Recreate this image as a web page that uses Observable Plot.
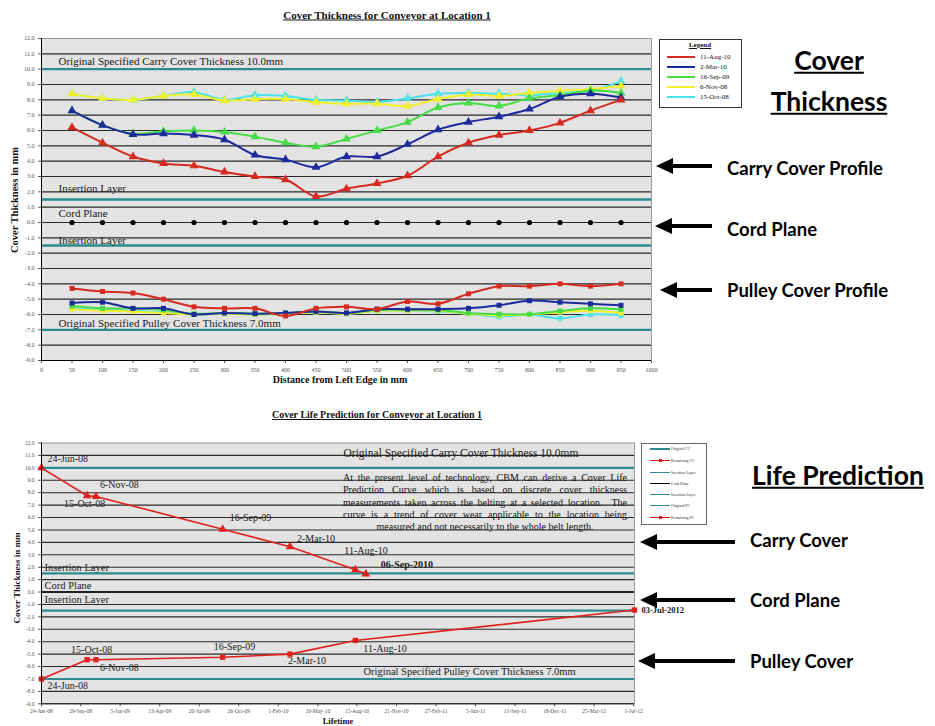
<!DOCTYPE html>
<html><head><meta charset="utf-8">
<script src="https://cdn.jsdelivr.net/npm/d3@7"></script>
<script src="https://cdn.jsdelivr.net/npm/@observablehq/plot@0.6"></script>
<style>
body{margin:0;background:#fff;}
#page{position:relative;width:935px;height:726px;overflow:hidden;font-family:"Liberation Serif",serif;color:#111;}
.abs{position:absolute;white-space:nowrap;line-height:1;}
.ctitle{font-weight:bold;font-size:11px;text-decoration:underline;transform:translate(-50%,-50%);}
.ylab{font-weight:bold;transform:translate(-50%,-50%) rotate(-90deg);}
.xlab{font-weight:bold;transform:translate(-50%,-50%);}
.big{font-family:Lato,sans-serif;font-weight:bold;transform:translateY(-50%);color:#000;}
.legend{border:1px solid #333;background:#fff;box-sizing:border-box;}
.para{font-size:10px;line-height:12.3px;text-align:justify;text-align-last:center;white-space:normal;}
</style></head>
<body><div id="page"></div>
<script>
// ---------- Chart 1 data: Cover Thickness ----------
const distances = [50,100,150,200,250,300,350,400,450,500,550,600,650,700,750,800,850,900,950];
const xTicks1 = [0,50,100,150,200,250,300,350,400,450,500,550,600,650,700,750,800,850,900,950,1000];
const yTicks = [12,11,10,9,8,7,6,5,4,3,2,1,0,-1,-2,-3,-4,-5,-6,-7,-8,-9];
const gridBlack = [11,9,8,7,6,5,4,3,2,1,0,-1,-2,-3,-4,-5,-6,-8];
const tealLines = [10,1.5,-1.5,-7];
const seriesDates = ["11-Aug-10","2-Mar-10","16-Sep-09","6-Nov-08","15-Oct-08"];
const seriesColors = ["#d62a20","#1d2a9c","#46dc46","#f2f02a","#4ae2ec"];

const carryAug10 = [6.2,5.2,4.3,3.85,3.7,3.3,3.0,2.8,1.7,2.2,2.55,3.05,4.3,5.2,5.7,6.0,6.5,7.3,8.0];
const carryMar10 = [7.3,6.35,5.75,5.8,5.7,5.4,4.4,4.1,3.6,4.3,4.3,5.1,6.05,6.55,6.9,7.4,8.2,8.4,8.15];
const carrySep09 = [7.3,6.35,5.8,5.95,6.0,5.9,5.6,5.2,4.95,5.45,6.0,6.55,7.5,7.8,7.6,8.1,8.3,8.6,8.45];
const carryNov08 = [8.4,8.1,8.0,8.25,8.35,7.95,8.05,8.05,7.85,7.75,7.75,7.6,8.05,8.35,8.25,8.45,8.6,8.7,8.9];
const carryOct08 = [8.4,8.1,8.0,8.25,8.5,8.0,8.3,8.25,8.0,7.95,7.85,8.1,8.4,8.45,8.4,8.3,8.45,8.6,9.2];

const pulleyAug10 = [-4.3,-4.5,-4.6,-5.0,-5.5,-5.6,-5.6,-6.1,-5.6,-5.5,-5.65,-5.15,-5.3,-4.65,-4.15,-4.15,-4.0,-4.15,-4.0];
const pulleyMar10 = [-5.25,-5.2,-5.6,-5.6,-6.0,-5.9,-5.95,-5.9,-5.8,-5.9,-5.65,-5.65,-5.65,-5.6,-5.4,-5.1,-5.2,-5.3,-5.4];
const pulleySep09 = [-5.45,-5.6,-5.6,-5.7,-5.95,-5.9,-5.95,-5.9,-5.8,-5.9,-5.7,-5.7,-5.7,-5.9,-5.98,-5.98,-5.77,-5.6,-5.67];
const pulleyNov08 = [-5.65,-5.75,-5.8,-5.9,-6.0,-5.95,-6.0,-5.95,-5.85,-5.95,-5.75,-5.75,-5.75,-5.95,-6.05,-6.0,-5.85,-5.75,-5.9];
const pulleyOct08 = [-5.6,-5.7,-5.75,-5.85,-6.0,-5.95,-6.0,-5.95,-5.85,-5.95,-5.75,-5.75,-5.8,-5.95,-6.15,-6.0,-6.25,-6.0,-6.05];

const annotText1 = ["Original Specified Carry Cover Thickness 10.0mm","Insertion Layer","Cord Plane","Insertion Layer","Original Specified Pulley Cover Thickness 7.0mm"];
const annotY1 = [10.5,2.25,0.6,-1.15,-6.6];

// ---------- Chart 2 data: Cover Life Prediction ----------
const tickLabels2 = ["24-Jun-08","29-Sep-08","5-Jan-09","13-Apr-09","20-Jul-09","26-Oct-09","1-Feb-10","10-May-10","15-Aug-10","21-Nov-10","27-Feb-11","5-Jun-11","11-Sep-11","18-Dec-11","25-Mar-12","1-Jul-12"];
const lifeDomain = ["24-Jun-08","3-Jul-12"];
const lifeCarryDates = ["24-Jun-08","15-Oct-08","6-Nov-08","16-Sep-09","2-Mar-10","11-Aug-10","6-Sep-10"];
const lifeCarryValues = [10.0,7.75,7.7,5.05,3.65,1.8,1.45];
const lifeCarryLabels = ["24-Jun-08","15-Oct-08","6-Nov-08","16-Sep-09","2-Mar-10","11-Aug-10","06-Sep-2010"];
const lifePulleyDates = ["24-Jun-08","15-Oct-08","6-Nov-08","16-Sep-09","2-Mar-10","11-Aug-10","3-Jul-12"];
const lifePulleyValues = [-7.0,-5.45,-5.45,-5.25,-5.0,-3.9,-1.45];
const lifePulleyLabels = ["24-Jun-08","15-Oct-08","6-Nov-08","16-Sep-09","2-Mar-10","11-Aug-10","03-Jul-2012"];
const annotText2 = ["Original Specified Carry Cover Thickness 10.0mm","Insertion Layer","Cord Plane","Insertion Layer","Original Specified Pulley Cover Thickness 7.0mm"];
const annotY2 = [11.2,2.0,0.5,-0.6,-6.4];
const legend2Labels = ["Original CC","Remaining CC","Insertion Layer","Cord Plane","Insertion Layer","Original PC","Remaining PC"];
const paragraph = "At the present level of technology, CBM can derive a Cover Life Prediction Curve which is based on discrete cover thickness measurements taken across the belting at a selected location.\u00a0 The curve is a trend of cover wear applicable to the location being measured and not necessarily to the whole belt length.";

// ---------- layout / style constants ----------
const page = document.getElementById("page");
const GRID = "#2a2a2a", TEAL = "#2b8b8e", BG = "#e3e3e3", RED = "#e0201c";
const fmt1 = d => d.toFixed(1);
const parse = d3.utcParse("%d-%b-%y");

function place(el, x, y){ el.style.position="absolute"; el.style.left=x+"px"; el.style.top=y+"px"; page.appendChild(el); return el; }
function div(cls, text, x, y, style){ const d=document.createElement("div"); d.className="abs "+cls; d.textContent=text; if(style) Object.assign(d.style,style); return place(d,x,y); }

// ---------- Chart 1 ----------
const carrySets = [carryAug10,carryMar10,carrySep09,carryNov08,carryOct08];
const pulleySets = [pulleyAug10,pulleyMar10,pulleySep09,pulleyNov08,pulleyOct08];
const marks1 = [
  Plot.frame({fill: BG, stroke: "#9a9a9a"}),
  Plot.ruleY(gridBlack, {stroke: GRID, strokeWidth: 1.1}),
  Plot.ruleY(tealLines, {stroke: TEAL, strokeWidth: 2.3}),
  Plot.text(annotText1.map((t,i)=>({t, y: annotY1[i]})), {text:"t", y:"y", frameAnchor:"left", dx:17, textAnchor:"start", fontSize:11, fill:"#1a1a1a"}),
  Plot.dot(distances, {x: d=>d, y: 0, r: 2.6, fill: "#000"})
];
for (const i of [4,3,2,1,0]) {
  const rc = distances.map((x,j)=>({x, y: carrySets[i][j], s: seriesDates[i]}));
  const rp = distances.map((x,j)=>({x, y: pulleySets[i][j], s: seriesDates[i]}));
  marks1.push(Plot.line(rc, {x:"x", y:"y", stroke: seriesColors[i], strokeWidth: 2, curve: "catmull-rom"}));
  marks1.push(Plot.dot(rc, {x:"x", y:"y", symbol:"triangle", r: 3.3, fill: seriesColors[i]}));
  marks1.push(Plot.line(rp, {x:"x", y:"y", stroke: seriesColors[i], strokeWidth: 2, curve: "catmull-rom"}));
  marks1.push(Plot.dot(rp, {x:"x", y:"y", symbol:"square", r: 2.8, fill: seriesColors[i]}));
}
marks1.push(Plot.ruleX([0], {stroke:"#000"}), Plot.ruleY([-9], {stroke:"#000"}));

const plot1 = Plot.plot({
  width: 660, height: 395,
  marginLeft: 41, marginRight: 9, marginTop: 38, marginBottom: 35,
  x: {domain:[0,1000], ticks: xTicks1, tickFormat: d=>String(d), tickSize: 3, tickPadding: 4, label: null},
  y: {domain:[-9,12], ticks: yTicks, tickFormat: fmt1, tickSize: 3, tickPadding: 4, label: null},
  style: {fontFamily: "Liberation Serif", fontSize: "6px", color: "#555", background: "transparent"},
  marks: marks1
});
place(plot1, 0, 0);

div("ctitle", "Cover Thickness for Conveyor at Location 1", 387, 15);
div("ylab", "Cover Thickness in mm", 15, 200, {fontSize:"10.5px"});
div("xlab", "Distance from Left Edge in mm", 340, 380, {fontSize:"10px"});

// legend 1
const lg1 = place(Object.assign(document.createElement("div"), {className:"legend"}), 659, 39);
Object.assign(lg1.style, {width:"83px", height:"69px"});
div("", "Legend", 700, 42, {fontSize:"7px", fontWeight:"bold", textDecoration:"underline", transform:"translateX(-50%)"});
seriesDates.forEach((d,i)=>{
  const y = [56.7,66.5,76.5,86.5,96.5][i];
  const ln = document.createElement("div"); Object.assign(ln.style,{height:"2px", width:"28px", background: seriesColors[i]});
  place(ln, 667, y-1);
  div("", d, 700, y, {fontSize:"7px", transform:"translateY(-50%)"});
});

// ---------- Chart 2 ----------
const d0 = parse(lifeDomain[0]), d1 = parse(lifeDomain[1]);
const carryRows = lifeCarryDates.map((d,i)=>({x: parse(d), y: lifeCarryValues[i], label: lifeCarryLabels[i]}));
const pulleyRows = lifePulleyDates.map((d,i)=>({x: parse(d), y: lifePulleyValues[i], label: lifePulleyLabels[i]}));
const carryOffsets = [[6,-9],[-23,8.5],[4,-12],[7,-11.5],[7,-7.5],[-11,-18.5],[15,-9.6]];
const pulleyOffsets = [[6,7],[-16,-9.5],[4,8],[-9,-10.7],[-2,7],[8,8],[7,0]];

const marks2 = [
  Plot.frame({fill: BG, stroke: "#9a9a9a"}),
  Plot.ruleY(gridBlack, {stroke: GRID, strokeWidth: 1.1}),
  Plot.ruleY([0], {stroke:"#000", strokeWidth: 1.4}),
  Plot.ruleY(tealLines, {stroke: TEAL, strokeWidth: 2.1}),
  Plot.text(annotText2.map((t,i)=>({t, y: annotY2[i]})).slice(1,4), {text:"t", y:"y", frameAnchor:"left", dx:3, textAnchor:"start", fontSize:10.5, fill:"#1a1a1a"}),
  Plot.text([{t: annotText2[0], y: annotY2[0]}], {text:"t", y:"y", frameAnchor:"left", dx:302, textAnchor:"start", fontSize:11.5, fill:"#1a1a1a"}),
  Plot.text([{t: annotText2[4], y: annotY2[4]}], {text:"t", y:"y", frameAnchor:"left", dx:322, textAnchor:"start", fontSize:10.5, fill:"#1a1a1a"}),
  Plot.line(carryRows, {x:"x", y:"y", stroke: RED, strokeWidth: 1.6}),
  Plot.dot(carryRows, {x:"x", y:"y", symbol:"triangle", r: 3.2, fill: RED}),
  Plot.line(pulleyRows, {x:"x", y:"y", stroke: RED, strokeWidth: 1.6}),
  Plot.dot(pulleyRows, {x:"x", y:"y", symbol:"square", r: 3, fill: RED}),
  Plot.ruleX([d0], {stroke:"#000"}), Plot.ruleY([-9], {stroke:"#000"})
];
carryRows.forEach((r,i)=>marks2.push(Plot.text([r], {x:"x", y:"y", text:"label", dx: carryOffsets[i][0], dy: carryOffsets[i][1], textAnchor:"start", fontSize: 10, fontWeight: i===6 ? "bold" : "normal", fill:"#1a1a1a"})));
pulleyRows.forEach((r,i)=>marks2.push(Plot.text([r], {x:"x", y:"y", text:"label", dx: pulleyOffsets[i][0], dy: pulleyOffsets[i][1], textAnchor:"start", fontSize: i===6 ? 8.5 : 10, fontWeight: i===6 ? "bold" : "normal", fill:"#1a1a1a"})));

const plot2 = Plot.plot({
  width: 710, height: 326,
  marginLeft: 41, marginRight: 76, marginTop: 42.5, marginBottom: 22.7,
  x: {type:"utc", domain:[d0,d1], ticks: tickLabels2.map(parse), tickFormat: d3.utcFormat("%-d-%b-%y"), tickSize: 3, tickPadding: 2, label: null},
  y: {domain:[-9,12], ticks: yTicks, tickFormat: fmt1, tickSize: 3, tickPadding: 4, label: null},
  style: {fontFamily: "Liberation Serif", fontSize: "5.5px", color: "#555", background: "transparent", overflow:"visible"},
  marks: marks2
});
place(plot2, 0, 400);

const para = div("para", paragraph, 343, 472);
para.style.width = "284px";

div("ctitle", "Cover Life Prediction for Conveyor at Location 1", 377, 415, {fontSize:"10px"});
div("ylab", "Cover Thickness in mm", 17, 578, {fontSize:"9px"});
div("xlab", "Lifetime", 338, 721, {fontSize:"8.5px"});

// legend 2
const lg2 = place(Object.assign(document.createElement("div"), {className:"legend"}), 641, 443);
Object.assign(lg2.style, {width:"66px", height:"82px", borderColor:"#666"});
const lg2Colors = [TEAL, RED, TEAL, "#000", TEAL, TEAL, RED];
const lg2Y = [449,460.5,472.5,483.5,494.5,505.5,517.5];
legend2Labels.forEach((t,i)=>{
  const ln = document.createElement("div"); Object.assign(ln.style,{height:"1.5px", width:"20px", background: lg2Colors[i]});
  place(ln, 650, lg2Y[i]-0.75);
  if (i===1 || i===6) { const m=document.createElement("div"); Object.assign(m.style,{width:"3px",height:"3px",background:RED}); place(m, 658.5, lg2Y[i]-1.5); }
  div("", t, 671, lg2Y[i], {fontSize:"4px", transform:"translateY(-50%)", color:"#333"});
});

// ---------- side annotations ----------
function arrow(xTip, xEnd, y){
  const head = document.createElement("div");
  Object.assign(head.style,{width:0,height:0,borderRight:"17px solid #000",borderTop:"8px solid transparent",borderBottom:"8px solid transparent"});
  place(head, xTip, y-8);
  const sh = document.createElement("div");
  Object.assign(sh.style,{height:"3.5px",background:"#000",width:(xEnd-xTip-14)+"px"});
  place(sh, xTip+14, y-1.75);
}
div("big", "Cover", 829, 60, {fontSize:"26.5px", textDecoration:"underline", transform:"translate(-50%,-50%)"});
div("big", "Thickness", 829, 101, {fontSize:"26.5px", textDecoration:"underline", transform:"translate(-50%,-50%)"});
div("big", "Carry Cover Profile", 727, 168, {fontSize:"18.5px"});
div("big", "Cord Plane", 727, 229, {fontSize:"18.5px"});
div("big", "Pulley Cover Profile", 727, 290, {fontSize:"18.5px"});
arrow(656, 712, 166); arrow(655, 712, 226); arrow(660, 712, 290);
div("big", "Life Prediction", 752, 475, {fontSize:"26.5px", textDecoration:"underline"});
div("big", "Carry Cover", 750, 540, {fontSize:"18.5px"});
div("big", "Cord Plane", 750, 600, {fontSize:"18.5px"});
div("big", "Pulley Cover", 750, 661, {fontSize:"18.5px"});
arrow(640, 735, 542); arrow(640, 735, 600); arrow(638, 735, 661);
</script>
</body></html>
